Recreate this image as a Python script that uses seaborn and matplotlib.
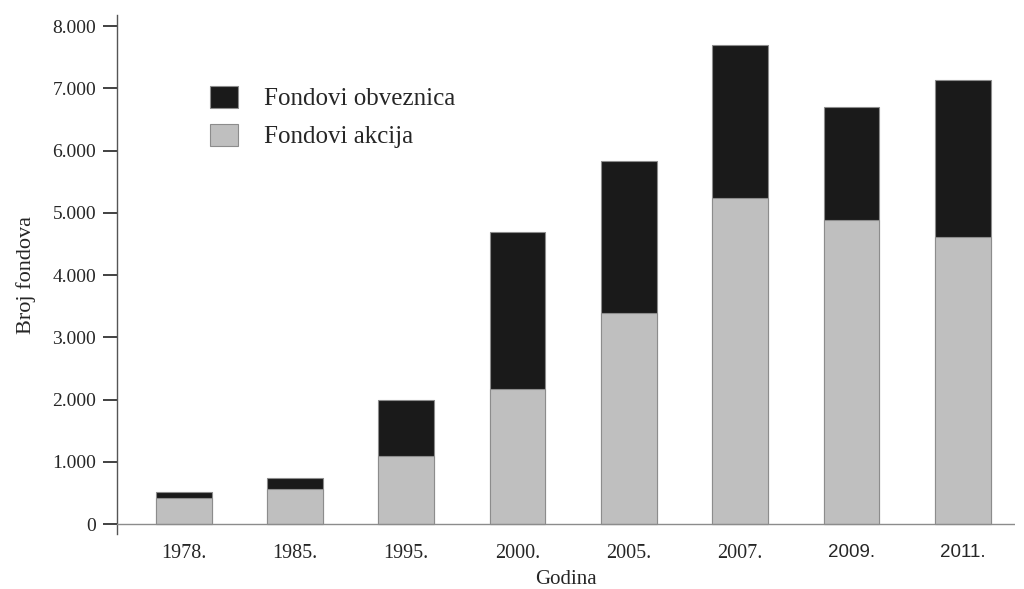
import numpy as np
import pandas as pd
import matplotlib
matplotlib.use("Agg")
import matplotlib.pyplot as plt
import seaborn as sns
from matplotlib.patches import Patch
from matplotlib import ticker

godine = ["1978.", "1985.", "1995.", "2000.", "2005.", "2007.", "2009.", "2011."]
fondovi_akcija = [415, 570, 1090, 2170, 3390, 5240, 4880, 4610]
fondovi_obveznica = [105, 175, 910, 2530, 2450, 2460, 1820, 2520]

sns.set_style("white")
plt.rcParams["font.family"] = ["Liberation Serif", "DejaVu Serif"]

data = pd.DataFrame({
    "Godina": godine,
    "Akcije": fondovi_akcija,
    "Obveznice": fondovi_obveznica,
})
data["Ukupno"] = data["Akcije"] + data["Obveznice"]

fig = plt.figure(figsize=(10.24, 5.89), dpi=100)
ax = fig.add_axes([117 / 1024, 1 - 534 / 589, (1015 - 117) / 1024, (534 - 15) / 589])

crna = "#1a1a1a"
siva = "#bfbfbf"

# ukupno (crno) pa akcije (sivo) preko njega
sns.barplot(ax=ax, data=data, x="Godina", y="Ukupno", color=crna,
            width=0.5, edgecolor="#8c8c8c", linewidth=0.8, saturation=1)
sns.barplot(ax=ax, data=data, x="Godina", y="Akcije", color=siva,
            width=0.5, edgecolor="#8c8c8c", linewidth=0.8, saturation=1)

ax.set_xlim(-0.6, 7.47)
ax.set_ylim(-160, 8180)
ax.set_yticks(range(0, 8001, 1000))
ax.yaxis.set_major_formatter(ticker.FuncFormatter(
    lambda v, p: "0" if v == 0 else f"{int(v):,}".replace(",", ".")))

ax.axhline(0, color="#8c8c8c", linewidth=1.0, zorder=5)
for s in ["top", "right", "bottom"]:
    ax.spines[s].set_visible(False)
ax.spines["left"].set_color("#555555")
ax.spines["left"].set_linewidth(1.0)

ax.tick_params(axis="y", direction="out", length=10, width=1.3, color="#333333",
               labelsize=14, pad=5, left=True)
ax.tick_params(axis="x", length=0, labelsize=14.5, pad=7)
for lbl in ax.get_xticklabels():
    if lbl.get_text() in ("2009.", "2011."):
        lbl.set_fontfamily(["Liberation Sans", "DejaVu Sans"])
        lbl.set_fontsize(13.5)

ax.set_ylabel("Broj fondova", fontsize=16, labelpad=12)
ax.set_xlabel("Godina", fontsize=15, labelpad=5)

handles = [Patch(facecolor=crna, edgecolor="#8c8c8c", linewidth=0.8),
           Patch(facecolor=siva, edgecolor="#8c8c8c", linewidth=0.8)]
fig.legend(handles, ["Fondovi obveznica", "Fondovi akcija"],
           loc="upper left", bbox_to_anchor=(210 / 1024, 1 - 86 / 589),
           frameon=False, fontsize=18, handlelength=1.1, handleheight=0.95,
           handletextpad=1.05, labelspacing=0.55, borderpad=0, borderaxespad=0)

fig.savefig("out.png", dpi=100, facecolor="white")
